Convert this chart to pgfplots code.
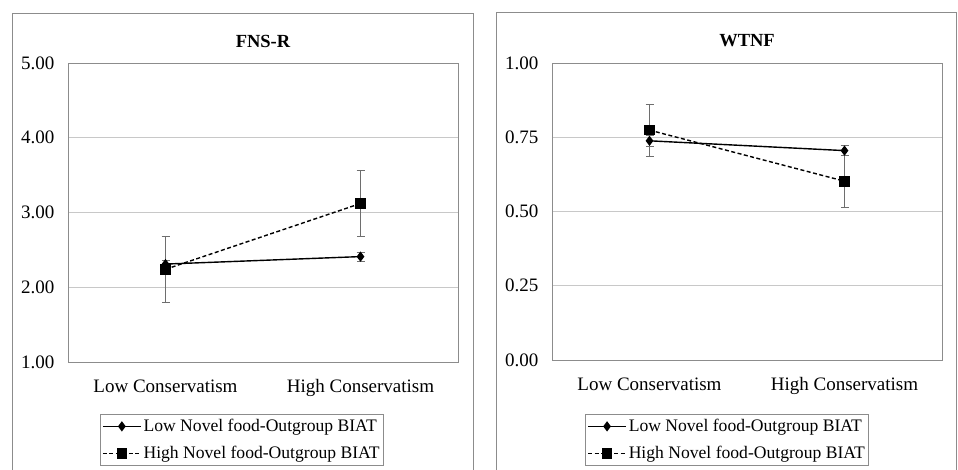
\documentclass[border=0pt]{standalone}
\usepackage{fontspec}
\setmainfont{Liberation Serif}
\usepackage{pgfplots}
\pgfplotsset{compat=1.18}
\definecolor{gridc}{RGB}{200,200,200}
\definecolor{boxc}{RGB}{140,140,140}
\definecolor{errc}{RGB}{110,110,110}
\pgfplotsset{
  myaxis/.style={
    scale only axis, width=390pt,
    xmin=0, xmax=2, xtick={0.5,1.5},
    xticklabels={Low Conservatism, High Conservatism},
    major tick length=0pt,
    ymajorgrids, grid style={gridc, line width=0.8pt},
    axis line style={boxc, line width=0.8pt},
    font=\fontsize{17.8}{21}\selectfont,
    tick label style={font=\fontsize{19}{22}\selectfont},
    /pgf/number format/assume math mode=true,
    yticklabel style={/pgf/number format/fixed, /pgf/number format/fixed zerofill, /pgf/number format/precision=2, xshift=-10pt},
    xticklabel style={yshift=-14pt},
    title style={font=\fontsize{18.5}{22}\selectfont\bfseries, at={(0.5,1)}, anchor=center, yshift=16pt},
    legend cell align=left,
    legend style={draw=boxc, line width=0.8pt, font=\fontsize{17.6}{21}\selectfont, anchor=north, inner xsep=2pt, inner ysep=3pt, row sep=9pt},
    legend image code/.code={\draw[mark repeat=2,mark phase=2,#1] plot coordinates {(0pt,0pt) (19pt,0pt) (38pt,0pt)};},
  },
  errs/.style={error bars/.cd, y dir=both, y explicit, error bar style={errc, line width=0.8pt, solid}, error mark=-, error mark options={rotate=90, errc, mark size=4pt, line width=0.8pt, solid}},
  lowb/.style={black, line width=1.4pt, solid, mark=diamond*, mark size=4pt, mark options={solid, fill=black}, errs},
  highb/.style={black, line width=1.4pt, dash pattern=on 4pt off 2.5pt, mark=square*, mark size=4.6pt, mark options={solid, fill=black}, errs},
}
\begin{document}
\begin{tikzpicture}
\useasboundingbox (0pt,0pt) rectangle (958pt,470pt);
\draw[boxc, line width=0.8pt] (12pt,0pt) -- (12pt,457pt) -- (473pt,457pt) -- (473pt,0pt);
\draw[boxc, line width=0.8pt] (496pt,0pt) -- (496pt,458pt) -- (956.5pt,458pt) -- (956.5pt,0pt);
\begin{axis}[myaxis, at={(68pt,108pt)}, anchor=south west, height=299pt,
  ymin=1, ymax=5, ytick={1,2,3,4,5}, title={FNS-R},
  legend style={at={(0.446,-0.174)}}]
\addplot+[lowb] coordinates {(0.5,2.31) +- (0,0.05) (1.5,2.41) +- (0,0.06)};
\addlegendentry{Low Novel food-Outgroup BIAT}
\addplot+[highb] coordinates {(0.5,2.24) +- (0,0.44) (1.5,3.12) +- (0,0.44)};
\addlegendentry{High Novel food-Outgroup BIAT}
\end{axis}
\begin{axis}[myaxis, at={(552pt,110pt)}, anchor=south west, height=297pt,
  ymin=0, ymax=1, ytick={0,0.25,0.5,0.75,1}, title={WTNF},
  legend style={at={(0.449,-0.182)}}]
\addplot+[lowb] coordinates {(0.5,0.738) +- (0,0.018) (1.5,0.705) +- (0,0.017)};
\addlegendentry{Low Novel food-Outgroup BIAT}
\addplot+[highb] coordinates {(0.5,0.774) +- (0,0.088) (1.5,0.602) +- (0,0.087)};
\addlegendentry{High Novel food-Outgroup BIAT}
\end{axis}
\end{tikzpicture}
\end{document}
